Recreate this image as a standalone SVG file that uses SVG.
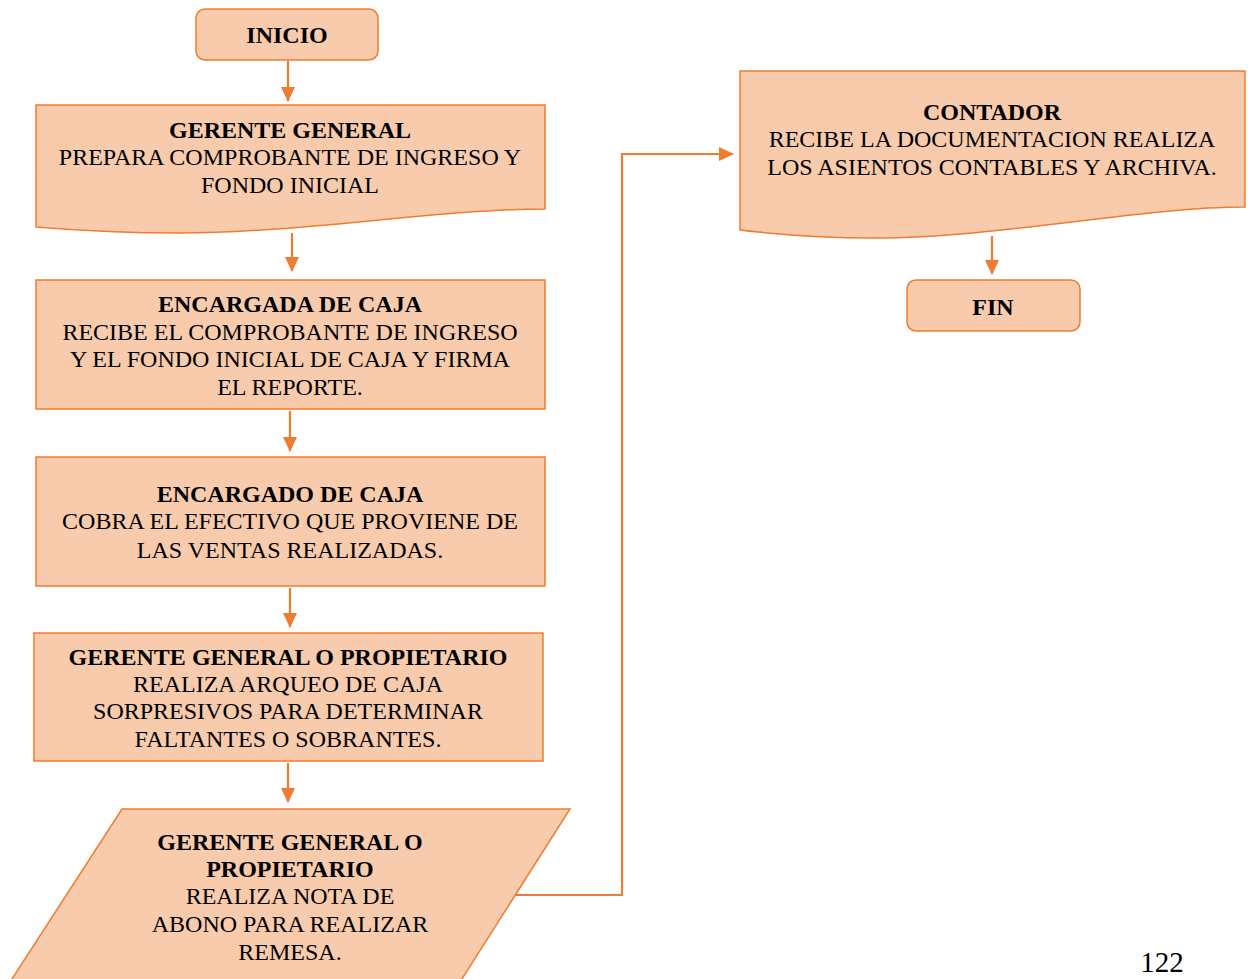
<svg xmlns="http://www.w3.org/2000/svg" width="1248" height="979" viewBox="0 0 1248 979">
  <style>
    .shape { fill: #F8CBAD; stroke: #ED7D31; stroke-width: 1.5; }
    .conn { fill: none; stroke: #ED7D31; stroke-width: 2.2; }
    text { font-family: "Liberation Serif", "Times New Roman", serif; font-size: 24px; fill: #000; text-anchor: middle; }
    .b { font-weight: bold; }
  </style>
  <defs>
    <marker id="arrow" markerUnits="userSpaceOnUse" markerWidth="16" markerHeight="14" refX="14" refY="7" orient="auto">
      <path d="M0,0 L15,7 L0,14 Z" fill="#ED7D31"/>
    </marker>
  </defs>

  <!-- connectors -->
  <g id="connectors">
    <line class="conn" x1="288" y1="61" x2="288" y2="101" marker-end="url(#arrow)"/>
    <line class="conn" x1="292" y1="233" x2="292" y2="271" marker-end="url(#arrow)"/>
    <line class="conn" x1="290" y1="411" x2="290" y2="451" marker-end="url(#arrow)"/>
    <line class="conn" x1="290" y1="588" x2="290" y2="627" marker-end="url(#arrow)"/>
    <line class="conn" x1="288" y1="763" x2="288" y2="802" marker-end="url(#arrow)"/>
    <polyline class="conn" points="513,895 622,895 622,154 733,154" marker-end="url(#arrow)"/>
    <line class="conn" x1="992" y1="236" x2="992" y2="274" marker-end="url(#arrow)"/>
  </g>

  <!-- start -->
  <g id="inicio">
    <rect class="shape" x="196" y="9" width="182" height="51" rx="9"/>
    <text class="b" x="287" y="43">INICIO</text>
  </g>

  <!-- general manager prepares voucher -->
  <g id="gerente-general">
    <path class="shape" d="M36,105 H545 V209 C440,209 300,233 180,233 C110,233 60,229 36,227 Z"/>
    <text class="b" x="290" y="138">GERENTE GENERAL</text>
    <text x="290" y="165">PREPARA COMPROBANTE DE INGRESO Y</text>
    <text x="290" y="193">FONDO INICIAL</text>
  </g>

  <!-- cashier receives fund -->
  <g id="encargada-caja">
    <rect class="shape" x="36" y="280" width="509" height="129"/>
    <text class="b" x="290" y="312">ENCARGADA DE CAJA</text>
    <text x="290" y="340">RECIBE EL COMPROBANTE DE INGRESO</text>
    <text x="290" y="367">Y EL FONDO INICIAL DE CAJA Y FIRMA</text>
    <text x="290" y="395">EL REPORTE.</text>
  </g>

  <!-- cashier collects cash -->
  <g id="encargado-caja">
    <rect class="shape" x="36" y="457" width="509" height="129"/>
    <text class="b" x="290" y="502">ENCARGADO DE CAJA</text>
    <text x="290" y="529">COBRA EL EFECTIVO QUE PROVIENE DE</text>
    <text x="290" y="558">LAS VENTAS REALIZADAS.</text>
  </g>

  <!-- surprise cash count -->
  <g id="arqueo">
    <rect class="shape" x="34" y="633" width="509" height="128"/>
    <text class="b" x="288" y="665">GERENTE GENERAL O PROPIETARIO</text>
    <text x="288" y="692">REALIZA ARQUEO DE CAJA</text>
    <text x="288" y="719">SORPRESIVOS PARA DETERMINAR</text>
    <text x="288" y="747">FALTANTES O SOBRANTES.</text>
  </g>

  <!-- deposit note -->
  <g id="nota-abono">
    <polygon class="shape" points="122,809 570,809 460,982 10,982"/>
    <text class="b" x="290" y="850">GERENTE GENERAL O</text>
    <text class="b" x="290" y="877">PROPIETARIO</text>
    <text x="290" y="904">REALIZA NOTA DE</text>
    <text x="290" y="932">ABONO PARA REALIZAR</text>
    <text x="290" y="960">REMESA.</text>
  </g>

  <!-- accountant -->
  <g id="contador">
    <path class="shape" d="M740,71 H1245 V207 C1140,207 1000,238 875,238 C810,238 765,233 740,230 Z"/>
    <text class="b" x="992" y="120">CONTADOR</text>
    <text x="992" y="147">RECIBE LA DOCUMENTACION REALIZA</text>
    <text x="992" y="175">LOS ASIENTOS CONTABLES Y ARCHIVA.</text>
  </g>

  <!-- end -->
  <g id="fin">
    <rect class="shape" x="907" y="280" width="173" height="51" rx="9"/>
    <text class="b" x="993" y="315">FIN</text>
  </g>

  <!-- page number -->
  <text x="1162" y="972" style="font-size:29px">122</text>
</svg>
